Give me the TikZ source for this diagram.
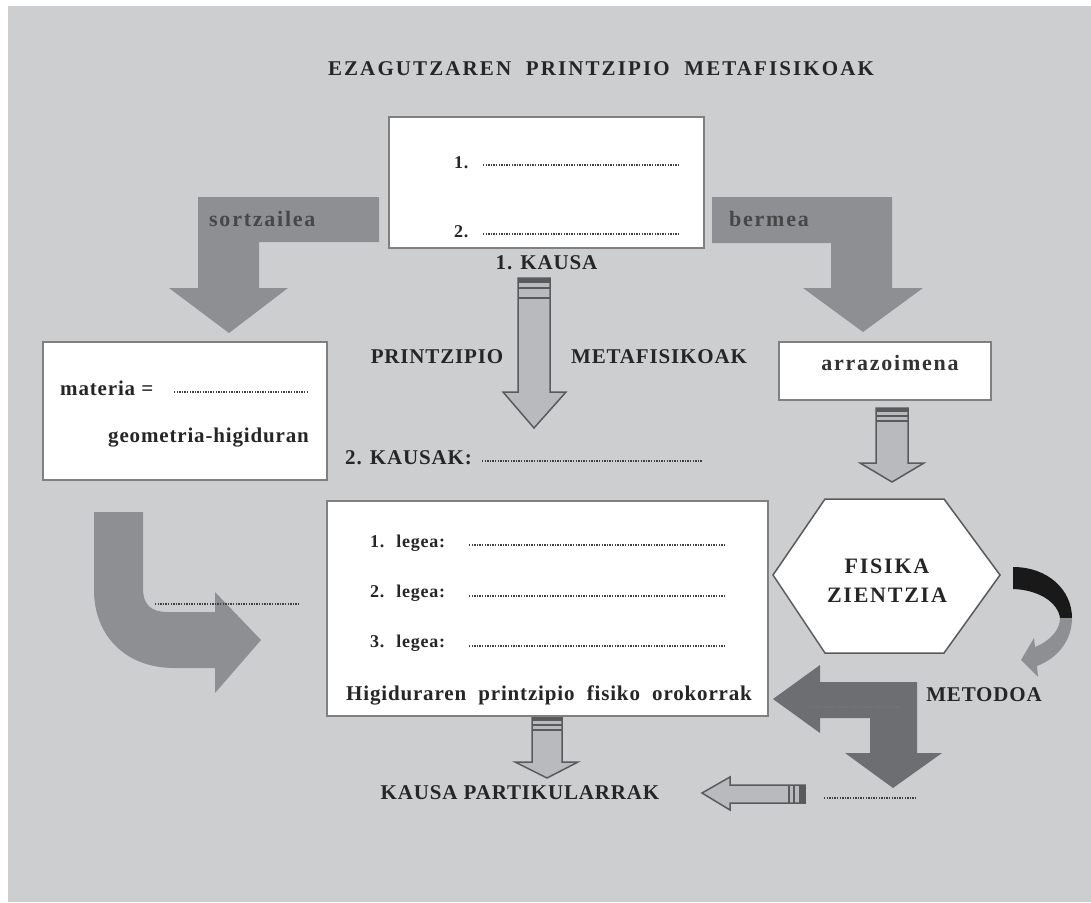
\documentclass[tikz,border=0pt]{standalone}
\usepackage{fontspec}
\setmainfont{Liberation Serif}
\newfontfamily\titel[LetterSpace=10]{Liberation Serif}
\newfontfamily\luft[LetterSpace=8]{Liberation Serif}
\newfontfamily\lidtluft[LetterSpace=4]{Liberation Serif}
\usetikzlibrary{arrows,positioning}
\definecolor{baggrund}{HTML}{CDCED0}
\definecolor{pilgraa}{HTML}{8E8F93}
\definecolor{pilmork}{HTML}{6D6E72}
\definecolor{pillys}{HTML}{B9BABD}
\definecolor{kant}{HTML}{5A5A5C}
\tikzset{
    %Define style for boxes
    kasse/.style={
           rectangle,
           fill=white,
           draw=black!50, line width=1.5pt,
           inner sep=0pt},
    %Define style for text
    tekst/.style={
           inner sep=0pt,
           text=black!85,
           font=\lidtluft\bfseries\fontsize{21}{25}\selectfont},
    pilord/.style={
           inner sep=0pt,
           text=black!72,
           font=\luft\bfseries\fontsize{22}{26}\selectfont},
    lov/.style={
           inner sep=0pt,
           text=black!85,
           font=\lidtluft\bfseries\fontsize{18}{22}\selectfont},
    % Define arrow styles
    pilkant/.style={
           fill=pillys,
           draw=kant, line width=1.5pt,
           line join=miter},
    prikker/.style={
           draw=black!75, line width=1.6pt,
           dash pattern=on 1.4pt off 1.2pt}
}
\begin{document}
\begin{tikzpicture}[x=1pt,y=-1pt,node distance=7pt]
\useasboundingbox (0,0) rectangle (1091,902);
\fill[white] (0,0) rectangle (1091,902);
\fill[baggrund] (8,6) rectangle (1091,902);

 %flat arrows
\fill[pilgraa] (379,197) -- (198,197) -- (198,288) -- (169,288) -- (229,333)
    -- (288,288) -- (259,288) -- (259,242) -- (379,242) -- cycle;
\fill[pilgraa] (712,197) -- (892,197) -- (892,288) -- (923,288) -- (863,332)
    -- (803,288) -- (831,288) -- (831,243) -- (712,243) -- cycle;
\fill[pilgraa] (94,512) -- (143,512) -- (143,588) .. controls (143,604) and (150,612) .. (168,612)
    -- (215,612) -- (215,592) -- (261,640) -- (215,693) -- (215,668) -- (174,668)
    .. controls (126,668) and (94,636) .. (94,590) -- cycle;
\fill[pilmork] (773,699) -- (820,665) -- (820,682) -- (917,682) -- (917,753) -- (942,753)
    -- (893,788) -- (845,753) -- (870,753) -- (870,718) -- (820,718) -- (820,733) -- cycle;
\fill[black!90] (1013,567) .. controls (1048,567) and (1072,590) .. (1072,618) -- (1060,618)
    .. controls (1058,603) and (1040,590) .. (1013,589) -- cycle;
\fill[pilgraa] (1060,618) -- (1072,618) .. controls (1072,640) and (1058,658) .. (1037,666)
    -- (1038,677) -- (1021,660) -- (1034,638) -- (1035,647)
    .. controls (1050,641) and (1060,630) .. (1060,618) -- cycle;

 %outlined arrows
\draw[pilkant] (518,278) -- (518,392) -- (503,392) -- (534,428) -- (566,392) -- (550,392) -- (550,278) -- cycle;
\fill[kant] (518,278) rectangle (550,283);
\draw[kant, line width=1.5pt] (518,288) -- (550,288) (518,298) -- (550,298);
\draw[pilkant] (876,408) -- (876,463) -- (860,463) -- (892,482) -- (924,463) -- (908,463) -- (908,408) -- cycle;
\fill[kant] (876,408) rectangle (908,412);
\draw[kant, line width=1.5pt] (876,416) -- (908,416) (876,421) -- (908,421);
\draw[pilkant] (532,717) -- (532,762) -- (515,762) -- (547,778) -- (578,762) -- (562,762) -- (562,717) -- cycle;
\fill[kant] (532,717) rectangle (562,721);
\draw[kant, line width=1.5pt] (532,725) -- (562,725) (532,730) -- (562,730);
\draw[pilkant] (805,785) -- (730,785) -- (730,777) -- (702,793) -- (730,810) -- (730,803) -- (805,803) -- cycle;
\fill[kant] (799,785) rectangle (805,803);
\draw[kant, line width=1.5pt] (794,785) -- (794,803) (789,785) -- (789,803);

 %nodes
\node[kasse, minimum width=315pt, minimum height=131pt] (1) at (546.5,182.5) {};
\node[kasse, minimum width=284pt, minimum height=138pt] (2) at (185,411) {};
\node[kasse, minimum width=212pt, minimum height=58pt] (3) at (885,371) {};
\node[kasse, minimum width=441pt, minimum height=215pt] (4) at (547.5,608.5) {};
\draw[fill=white, draw=kant, line width=1.5pt] (825,499) -- (944,499) -- (1000,575) -- (944,653)
    -- (825,653) -- (773,575) -- cycle;
\node[tekst, align=center, font=\luft\bfseries\fontsize{22}{29}\selectfont] (5) at (887,581) {FISIKA\\ZIENTZIA};

 %labels
\node[tekst, font=\titel\bfseries\fontsize{21}{25}\selectfont] (titel) at (601,69) {EZAGUTZAREN\ \ PRINTZIPIO\ \ METAFISIKOAK};
\node[lov, anchor=west] (1a) at (454,163) {1.};
\node[lov, anchor=west] (1b) at (454,232) {2.};
\node[tekst, below=7pt of 1] (kausa) {1. KAUSA};
\node[tekst] (printzipio) at (437,357) {PRINTZIPIO};
\node[tekst] (metafisikoak) at (659,357) {METAFISIKOAK};
\node[tekst, anchor=west] (kausak) at (345,458) {2. KAUSAK:};
\node[pilord, anchor=west] (sortz) at (209,219) {sortzailea};
\node[pilord, anchor=west] (bermea) at (729,219) {bermea};
\node[tekst, anchor=west] (materia) at (60,388) {materia =};
\node[tekst, anchor=east] (geometria) at (309,438) {geometria-higiduran};
\node[pilord, text=black!80] (arrazoi) at (890,363) {arrazoimena};
\node[lov, anchor=west] (lege1) at (370,543) {1.\hspace{12pt}legea:};
\node[lov, anchor=west] (lege2) at (370,593) {2.\hspace{12pt}legea:};
\node[lov, anchor=west] (lege3) at (370,643) {3.\hspace{12pt}legea:};
\node[tekst] (higid) at (549,695) {Higiduraren\ \ printzipio\ \ fisiko\ \ orokorrak};
\node[tekst] (metodoa) at (984,695) {METODOA};
\node[tekst] (partik) at (520,793) {KAUSA PARTIKULARRAK};

 %dotted blanks
\draw[prikker] (483,165) -- (679,165);
\draw[prikker] (483,234) -- (679,234);
\draw[prikker] (174,392) -- (309,392);
\draw[prikker] (482,461) -- (702,461);
\draw[prikker] (469,545) -- (724,545);
\draw[prikker] (469,596) -- (724,596);
\draw[prikker] (469,646) -- (724,646);
\draw[prikker] (155,604) -- (299,604);
\draw[prikker, draw=black!55] (808,707) -- (900,707);
\draw[prikker] (824,798) -- (916,798);
\end{tikzpicture}
\end{document}
